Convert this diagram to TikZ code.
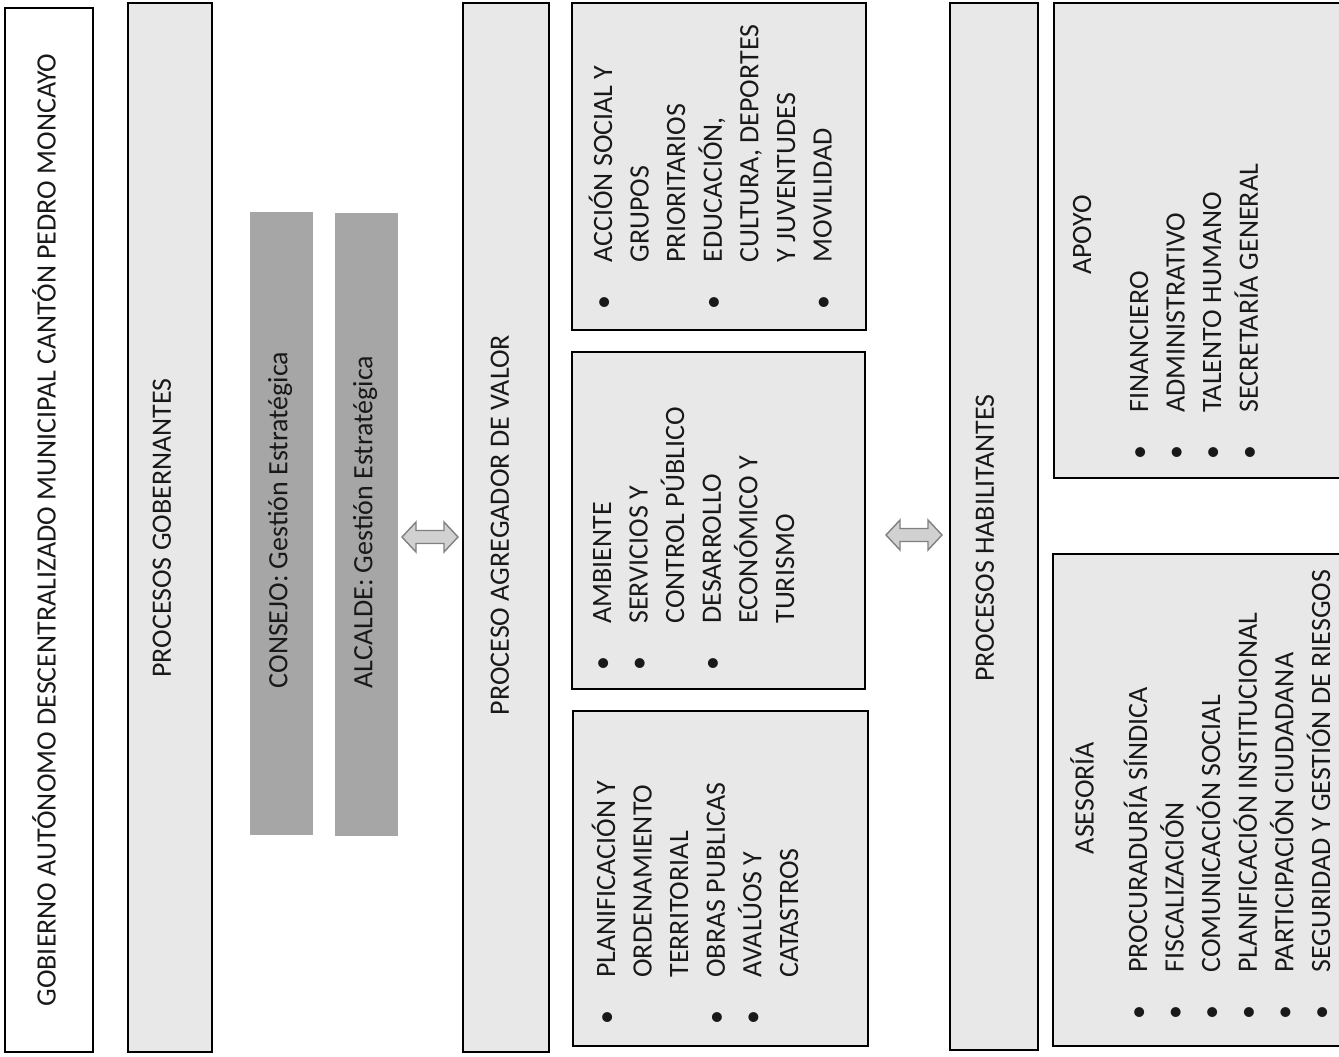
\documentclass[tikz,border=0pt]{standalone}
\usepackage{fontspec}
\setmainfont{Carlito}
\usetikzlibrary{calc}

\newcommand{\bul}{\makebox[23.5pt][l]{\textbullet}}
\newcommand{\nob}{\hspace*{23.5pt}}

\begin{document}
\begin{tikzpicture}[x=0.5pt,y=-0.5pt,
  font=\fontsize{14pt}{18.3pt}\selectfont, text=black!90,
  bar/.style={rectangle,draw=black,line width=1pt,fill=black!9,rotate=90,inner sep=0pt},
  dark/.style={rectangle,draw=none,fill=black!35,rotate=90,inner sep=0pt},
  txt/.style={rotate=90,inner sep=0pt},
  lista/.style={rotate=90,inner sep=0pt,align=left,anchor=base west},
  dbl/.style={draw=black!50,fill=black!18,line width=0.7pt,line join=miter}]

  \useasboundingbox (0,0) rectangle (1339,1056);
  \clip (0,0) rectangle (1339,1056);

  \node[bar,fill=white,minimum width=522pt,minimum height=44pt] (gad) at (49,530) {};
  \node[bar,minimum width=524.5pt,minimum height=42pt] (gob) at (170,527.5) {};
  \node[dark,minimum width=311.5pt,minimum height=31.5pt] (cons) at (281.5,523.5) {};
  \node[dark,minimum width=311.5pt,minimum height=31.5pt] (alc) at (366.5,524.5) {};
  \node[bar,minimum width=524.5pt,minimum height=43pt] (agr) at (506,527.5) {};
  \node[bar,minimum width=167.5pt,minimum height=147.5pt] (plan) at (720.5,878.5) {};
  \node[bar,minimum width=168.5pt,minimum height=146.5pt] (amb) at (718.5,520.5) {};
  \node[bar,minimum width=163.5pt,minimum height=147pt] (soc) at (719,166.5) {};
  \node[bar,minimum width=523.5pt,minimum height=44pt] (hab) at (994,526.5) {};
  \node[bar,minimum width=246pt,minimum height=147pt] (ases) at (1200,800) {};
  \node[bar,minimum width=237.5pt,minimum height=146.5pt] (apoyo) at (1200.5,240.5) {};

  \node[txt] (gadt) at (44,530) {GOBIERNO AUTÓNOMO DESCENTRALIZADO MUNICIPAL CANTÓN PEDRO MONCAYO};
  \node[txt] (gobt) at (162,528) {PROCESOS GOBERNANTES};
  \node[txt] (const) at (280,520) {CONSEJO: Gestión Estratégica};
  \node[txt] (alct) at (365,522) {ALCALDE: Gestión Estratégica};
  \node[txt] (agrt) at (500,525) {PROCESO AGREGADOR DE VALOR};
  \node[txt] (habt) at (985,538) {PROCESOS HABILITANTES};
  \node[txt] (asest) at (1082,798) {ASESORÍA};
  \node[txt] (apoyot) at (1082,235) {APOYO};

  % base west = baseline of the last line
  \node[lista] (planl) at (798,1025) {\bul PLANIFICACIÓN Y\\ \nob ORDENAMIENTO\\ \nob TERRITORIAL\\
    \bul OBRAS PUBLICAS\\ \bul AVALÚOS Y\\ \nob CATASTROS};
  \node[lista] (ambl) at (794,671) {\bul AMBIENTE\\ \bul SERVICIOS Y\\ \nob CONTROL PÚBLICO\\
    \bul DESARROLLO\\ \nob ECONÓMICO Y\\ \nob TURISMO};
  \node[lista] (socl) at (831.6,310) {\bul ACCIÓN SOCIAL Y\\ \nob GRUPOS\\ \nob PRIORITARIOS\\
    \bul EDUCACIÓN,\\ \nob CULTURA, DEPORTES\\ \nob Y JUVENTUDES\\ \bul MOVILIDAD};
  \node[lista] (asesl) at (1330,1020) {\bul PROCURADURÍA SÍNDICA\\ \bul FISCALIZACIÓN\\
    \bul COMUNICACIÓN SOCIAL\\ \bul PLANIFICACIÓN INSTITUCIONAL\\
    \bul PARTICIPACIÓN CIUDADANA\\ \bul SEGURIDAD Y GESTIÓN DE RIESGOS};
  \node[lista] (apoyol) at (1257.8,460) {\bul FINANCIERO\\ \bul ADMINISTRATIVO\\
    \bul TALENTO HUMANO\\ \bul SECRETARÍA GENERAL};

  \coordinate (a1) at (430,537);
  \coordinate (a2) at (914,535);
  \foreach \c in {a1,a2}
    \draw[dbl] ($(\c)+(-28,0)$) -- ++(14,-15) -- ++(0,8.5) -- ++(28,0) -- ++(0,-8.5)
      -- ++(14,15) -- ++(-14,15) -- ++(0,-8.5) -- ++(-28,0) -- ++(0,8.5) -- cycle;
\end{tikzpicture}
\end{document}
